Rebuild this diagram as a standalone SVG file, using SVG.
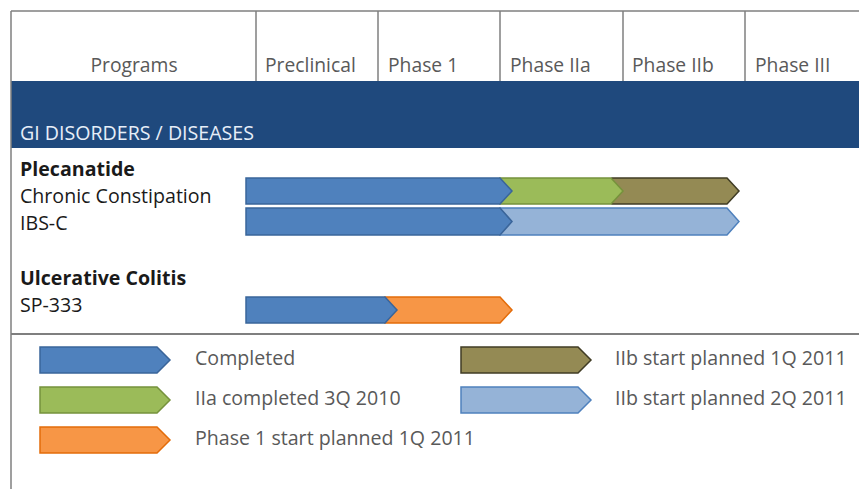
<svg xmlns="http://www.w3.org/2000/svg" width="859" height="489" viewBox="0 0 859 489">
<style>
.grid{stroke:#7f7f7f;stroke-width:1.5;fill:none}
.hd{font-family:"Open Sans","Noto Sans",sans-serif;font-size:19.3px;fill:#595959}
.lbl{font-family:"Open Sans","Noto Sans",sans-serif;font-size:19.6px;fill:#1a1a1a}
.b{font-weight:bold}
.lg{font-family:"Open Sans","Noto Sans",sans-serif;font-size:19.6px;fill:#595959}
.blue{fill:#4f81bd;stroke:#3a659a;stroke-width:1.5}
.green{fill:#9bbb59;stroke:#76923c;stroke-width:1.5}
.olive{fill:#948a54;stroke:#403c24;stroke-width:1.5}
.lblue{fill:#95b3d7;stroke:#4f81bd;stroke-width:1.5}
.orange{fill:#f79646;stroke:#e36c0a;stroke-width:1.5}
</style>
<rect width="859" height="489" fill="#ffffff"/>
<g id="header">
<rect x="11" y="81" width="848" height="67" fill="#1f497d"/>
<line class="grid" x1="11" y1="11" x2="859" y2="11"/>
<line class="grid" x1="11" y1="11" x2="11" y2="489"/>
<line class="grid" x1="256" y1="11" x2="256" y2="81"/>
<line class="grid" x1="378" y1="11" x2="378" y2="81"/>
<line class="grid" x1="500" y1="11" x2="500" y2="81"/>
<line class="grid" x1="623" y1="11" x2="623" y2="81"/>
<line class="grid" x1="745" y1="11" x2="745" y2="81"/>
<line x1="11" y1="334" x2="859" y2="334" stroke="#7f7f7f" stroke-width="2"/>
<text class="hd" x="134" y="72" text-anchor="middle">Programs</text>
<text class="hd" x="265" y="72">Preclinical</text>
<text class="hd" x="388" y="72">Phase 1</text>
<text class="hd" x="510" y="72">Phase IIa</text>
<text class="hd" x="632" y="72">Phase IIb</text>
<text class="hd" x="755" y="72">Phase III</text>
<text x="20" y="140" font-family="Open Sans, Noto Sans, sans-serif" font-size="19.6" fill="#e6eef8">GI DISORDERS / DISEASES</text>
</g>
<g id="labels">
<text class="lbl b" x="20" y="176">Plecanatide</text>
<text class="lbl" x="20" y="203">Chronic Constipation</text>
<text class="lbl" x="20" y="230">IBS-C</text>
<text class="lbl b" x="20" y="285">Ulcerative Colitis</text>
<text class="lbl" x="20" y="312">SP-333</text>
</g>
<g id="bar-chronic-constipation">
<path class="olive" d="M612,178 H727 L739,191 L727,204 H612 Z"/>
<path class="green" d="M500,178 H611 L623,191 L611,204 H500 Z"/>
<path class="blue" d="M246,178 H500 L512,191 L500,204 H246 Z"/>
</g>
<g id="bar-ibs-c">
<path class="lblue" d="M500,208 H727 L739,221.5 L727,235 H500 Z"/>
<path class="blue" d="M246,208 H500 L512,221.5 L500,235 H246 Z"/>
</g>
<g id="bar-sp-333">
<path class="orange" d="M385,297 H500 L512,310 L500,323 H385 Z"/>
<path class="blue" d="M246,297 H385 L397,310 L385,323 H246 Z"/>
</g>
<g id="legend">
<path class="blue" d="M40,347 H157 L170,360 L157,373 H40 Z"/>
<text class="lg" x="195" y="365">Completed</text>
<path class="green" d="M40,387 H157 L170,400 L157,413 H40 Z"/>
<text class="lg" x="195" y="405">IIa completed 3Q 2010</text>
<path class="orange" d="M40,427 H157 L170,440 L157,453 H40 Z"/>
<text class="lg" x="195" y="445">Phase 1 start planned 1Q 2011</text>
<path class="olive" d="M461,347 H578 L591,360 L578,373 H461 Z"/>
<text class="lg" x="615" y="365">IIb start planned 1Q 2011</text>
<path class="lblue" d="M461,387 H578 L591,400 L578,413 H461 Z"/>
<text class="lg" x="615" y="405">IIb start planned 2Q 2011</text>
</g>
<g id="connectors"/>
</svg>
